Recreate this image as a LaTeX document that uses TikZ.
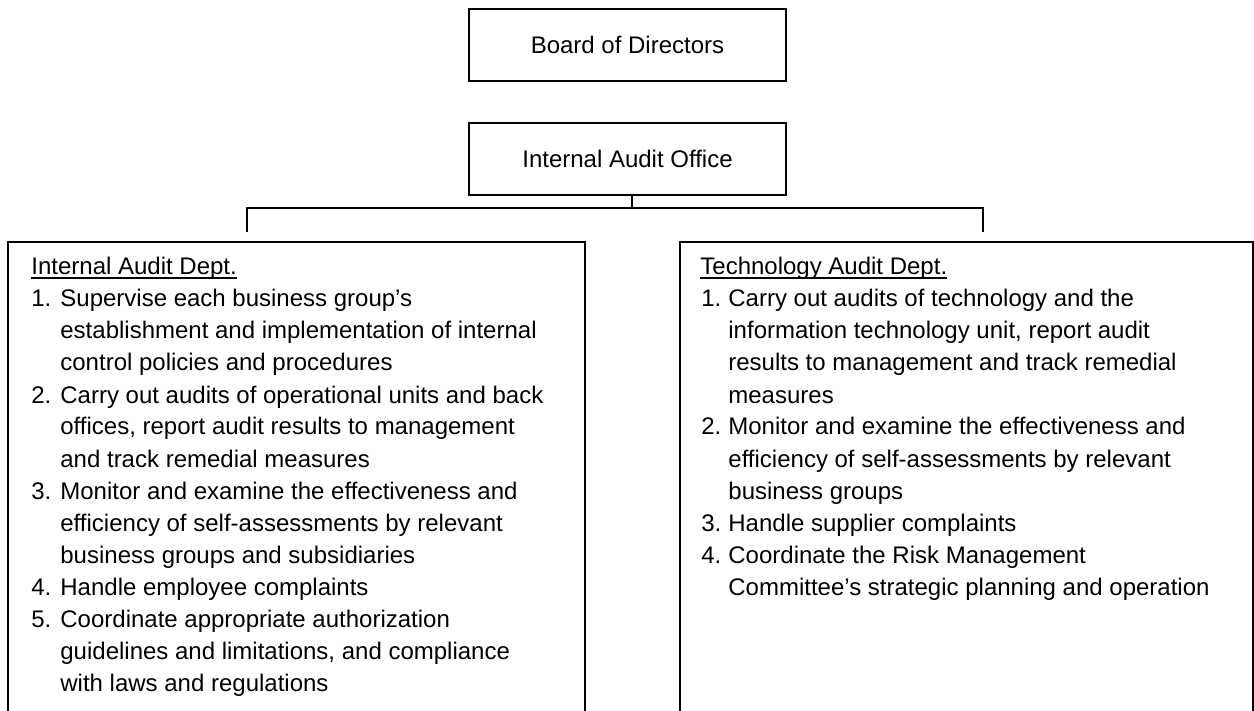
\documentclass[tikz,border=0pt]{standalone}
\usepackage{fontspec}
\setmainfont{Liberation Sans}
% underline sitting just below the baseline
\newcommand\deptul[1]{\setbox0\hbox{#1}\rlap{\vrule width\wd0 height -1.0pt depth 2.0pt}\box0}
\begin{document}
\begin{tikzpicture}[x=0.5pt,y=-0.5pt,
  txt/.style={font=\fontsize{12pt}{16pt}\selectfont},
  topbox/.style={txt,draw,line width=1pt,minimum width=158.5pt,minimum height=36pt,inner sep=0pt},
  deptframe/.style={anchor=north west,inner sep=0pt,minimum height=240pt},
  ln/.style={txt,anchor=base west,inner sep=0pt},
  conn/.style={line width=1pt,line join=miter}]
\useasboundingbox (0,0) rectangle (1254,711);

% top level boxes
\node[topbox] (board) at (627.5,45) {Board of Directors};
\node[topbox] (iao) at (627.5,159) {Internal Audit Office};

% department frames (open at the bottom)
\node[deptframe,minimum width=288pt] (iad) at (8,242) {};
\node[deptframe,minimum width=286pt] (tad) at (680,242) {};
\draw[conn] (iad.south west) -- (iad.north west) -- (iad.north east) -- (iad.south east);
\draw[conn] (tad.south west) -- (tad.north west) -- (tad.north east) -- (tad.south east);

% connectors from the office to both departments
\coordinate (jl) at (247,208);
\coordinate (jr) at (983,208);
\coordinate (el) at (247,232);
\coordinate (er) at (983,232);
\draw[conn] ([xshift=2.25pt]iao.south) -- ([xshift=2.25pt]iao.south |- jl);
\draw[conn] (el) -- (jl) -- (jr) -- (er);

% Internal Audit Dept. text
\node[ln] (iadh) at (31,275) {\deptul{Internal Audit Dept.}};
\node[ln] (iadn1) at (31,307) {1.};
\node[ln] (iad1a) at (60,307) {Supervise each business group’s};
\node[ln] (iad1b) at (60,339) {establishment and implementation of internal};
\node[ln] (iad1c) at (60,371) {control policies and procedures};
\node[ln] (iadn2) at (31,403) {2.};
\node[ln] (iad2a) at (60,403) {Carry out audits of operational units and back};
\node[ln] (iad2b) at (60,435) {offices, report audit results to management};
\node[ln] (iad2c) at (60,467) {and track remedial measures};
\node[ln] (iadn3) at (31,499) {3.};
\node[ln] (iad3a) at (60,499) {Monitor and examine the effectiveness and};
\node[ln] (iad3b) at (60,531) {efficiency of self-assessments by relevant};
\node[ln] (iad3c) at (60,563) {business groups and subsidiaries};
\node[ln] (iadn4) at (31,595) {4.};
\node[ln] (iad4a) at (60,595) {Handle employee complaints};
\node[ln] (iadn5) at (31,627) {5.};
\node[ln] (iad5a) at (60,627) {Coordinate appropriate authorization};
\node[ln] (iad5b) at (60,659) {guidelines and limitations, and compliance};
\node[ln] (iad5c) at (60,691) {with laws and regulations};

% Technology Audit Dept. text
\node[ln] (tadh) at (700,275) {\deptul{Technology Audit Dept.}};
\node[ln] (tadn1) at (701,307) {1.};
\node[ln] (tad1a) at (728,307) {Carry out audits of technology and the};
\node[ln] (tad1b) at (728,339) {information technology unit, report audit};
\node[ln] (tad1c) at (728,371) {results to management and track remedial};
\node[ln] (tad1d) at (728,403) {measures};
\node[ln] (tadn2) at (701,435) {2.};
\node[ln] (tad2a) at (728,435) {Monitor and examine the effectiveness and};
\node[ln] (tad2b) at (728,467) {efficiency of self-assessments by relevant};
\node[ln] (tad2c) at (728,499) {business groups};
\node[ln] (tadn3) at (701,531) {3.};
\node[ln] (tad3a) at (728,531) {Handle supplier complaints};
\node[ln] (tadn4) at (701,563) {4.};
\node[ln] (tad4a) at (728,563) {Coordinate the Risk Management};
\node[ln] (tad4b) at (728,595) {Committee’s strategic planning and operation};
\end{tikzpicture}
\end{document}
